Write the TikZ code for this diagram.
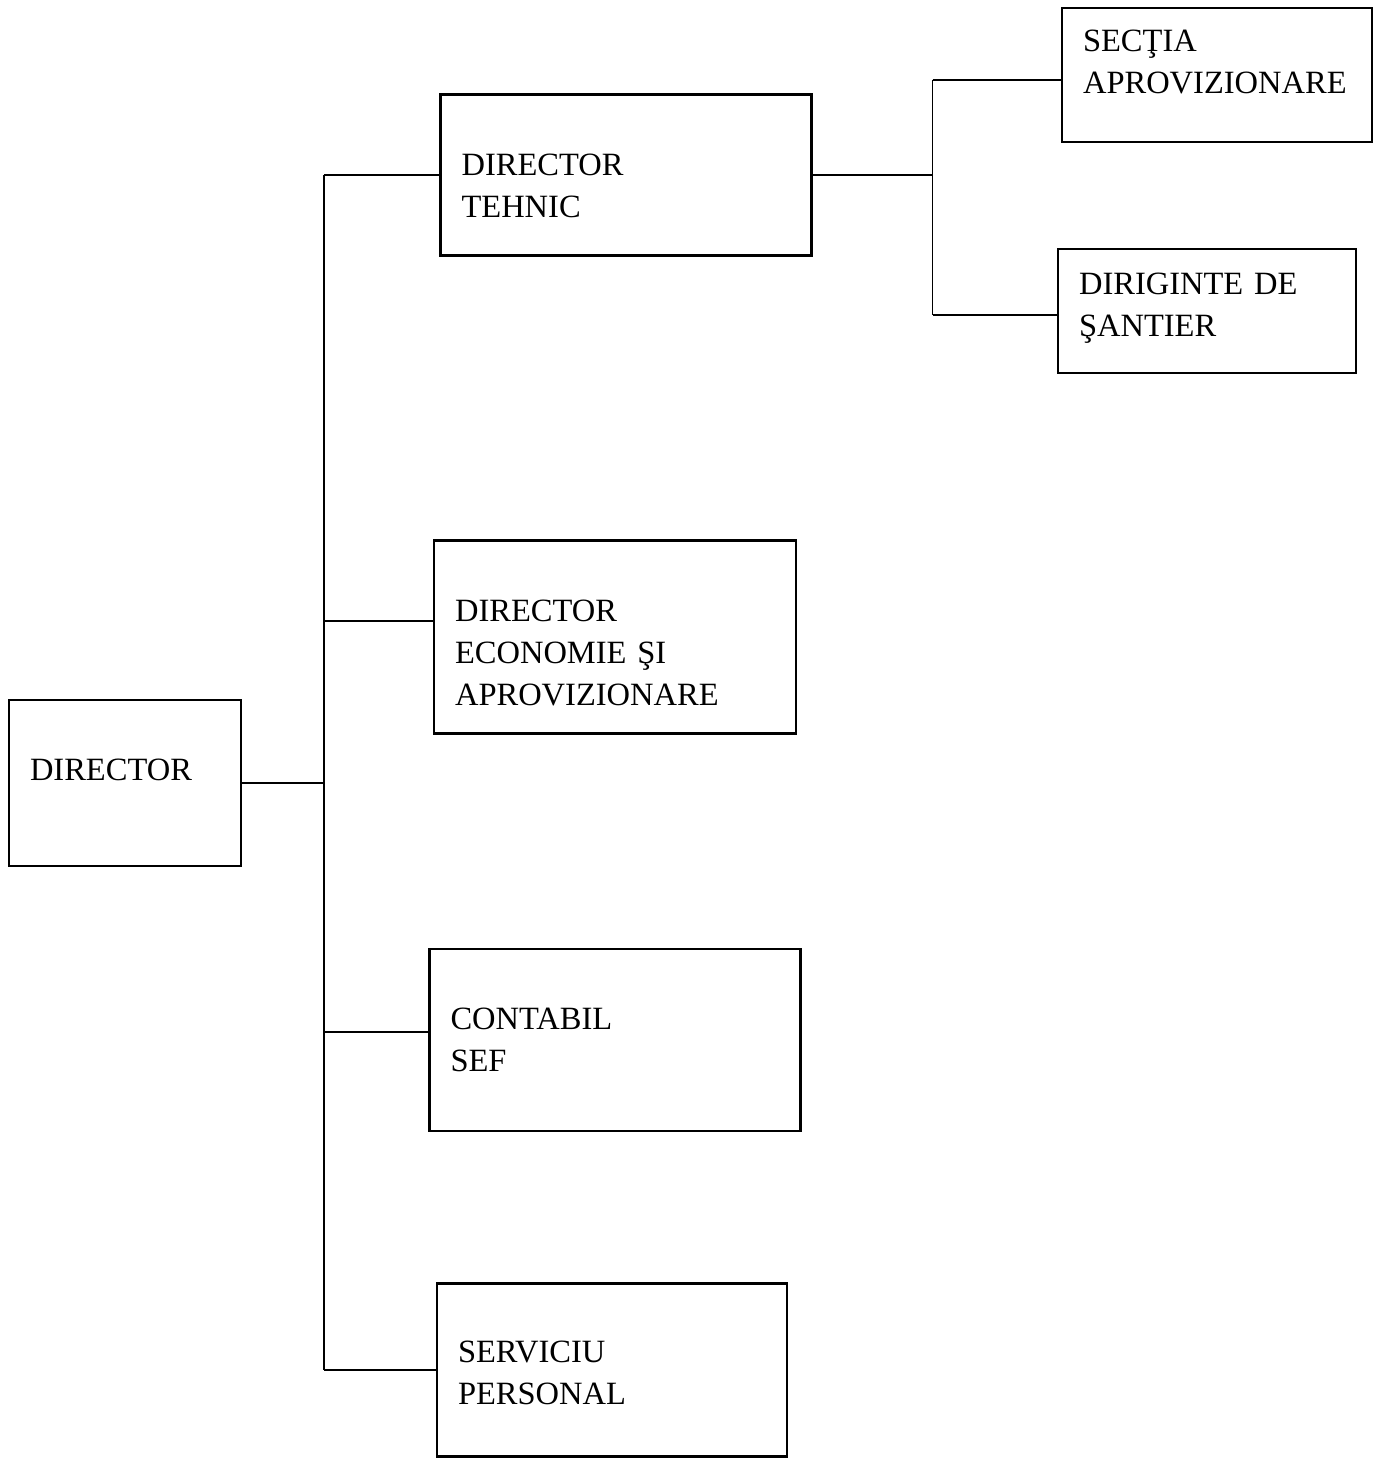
\documentclass[tikz,border=0pt]{standalone}
\usepackage{fontspec}
\setmainfont{Liberation Serif}
\usepackage{tikz}
\usetikzlibrary{positioning,calc}

\begin{document}
\begin{tikzpicture}[x=0.02cm,y=-0.02cm,
	box/.style={draw, line width=1.2pt, inner xsep=0.42cm, align=left,
		text depth=1.0cm, font=\fontsize{18.5}{24}\selectfont},
	link/.style={line width=1.1pt}]
	\useasboundingbox (0,0) rectangle (1383,1459);
	
	% Director
	\node[box, minimum width=4.64cm, minimum height=3.32cm, text width=3.8cm, text height=0.9cm] (dir) at (125,783) {DIRECTOR};
	
	% Second level
	\node[box, minimum width=7.42cm, minimum height=3.22cm, text width=6.58cm, text height=1.02cm] (tehnic) at (626,175) {DIRECTOR\\TEHNIC};
	\node[box, minimum width=7.24cm, minimum height=3.86cm, text width=6.4cm, text height=0.38cm] (economie) at (615,637) {DIRECTOR\\ECONOMIE ŞI\\APROVIZIONARE};
	\node[box, minimum width=7.42cm, minimum height=3.64cm, text width=6.58cm, text height=0.58cm] (contabil) at (615,1040) {CONTABIL\\SEF};
	\node[box, minimum width=7.0cm, minimum height=3.46cm, text width=6.16cm, text height=0.68cm] (serviciu) at (612,1370) {SERVICIU\\PERSONAL};
	
	% Third level
	\node[box, minimum width=6.2cm, minimum height=2.68cm, text width=5.36cm, text height=0.06cm] (sectia) at (1217,75) {SECŢIA\\APROVIZIONARE};
	\node[box, minimum width=5.96cm, minimum height=2.48cm, text width=5.12cm, text height=0.32cm] (diriginte) at (1207,311) {DIRIGINTE DE\\ŞANTIER};
	
	% Trunk to second level
	\draw[link] (dir.east) -- ++(82,0) coordinate (trunk);
	\draw[link] (trunk |- tehnic.west) -- (trunk |- serviciu.west);
	\foreach \n/\dy in {tehnic/0,economie/-16,contabil/-8,serviciu/0} {
		\draw[link] (trunk |- {$(\n.west)+(0,\dy)$}) -- ($(\n.west)+(0,\dy)$);
	}
	
	% Branch to third level
	\draw[link] (tehnic.east) -- ++(120,0) coordinate (fork);
	\draw[link] (fork |- {$(sectia.west)+(0,5)$}) -- (fork |- {$(diriginte.west)+(0,4)$});
	\foreach \n/\dy in {sectia/5,diriginte/4} {
		\draw[link] (fork |- {$(\n.west)+(0,\dy)$}) -- ($(\n.west)+(0,\dy)$);
	}
\end{tikzpicture}
\end{document}
